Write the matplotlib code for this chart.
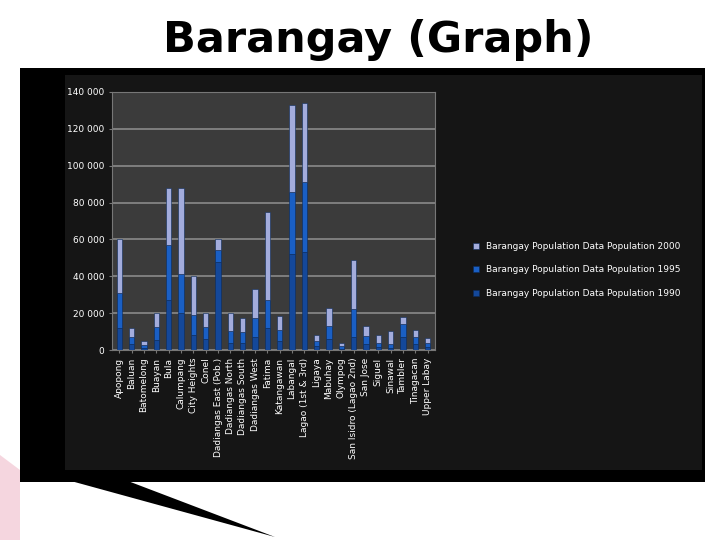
import matplotlib
matplotlib.use("Agg")
import matplotlib.pyplot as plt
from matplotlib.patches import Rectangle, Polygon
import numpy as np

categories = ["Apopong", "Baluan", "Batomelong", "Buayan", "Bula", "Calumpang", "City Heights",
              "Conel", "Dadiangas East (Pob.)", "Dadiangas North", "Dadiangas South", "Dadiangas West",
              "Fatima", "Katangawan", "Labangal", "Lagao (1st & 3rd)", "Ligaya", "Mabuhay", "Olympog",
              "San Isidro (Lagao 2nd)", "San Jose", "Siguel", "Sinawal", "Tambler", "Tinagacan", "Upper Labay"]
pop1990 = [12000, 3000, 1000, 5500, 27000, 20000, 8000, 6000, 48000, 4000, 4000, 7000, 12000, 5000,
           52000, 53000, 2000, 6000, 800, 7000, 3000, 1500, 1200, 7000, 3000, 1500]
pop1995 = [19000, 4000, 1500, 7000, 30000, 21000, 11000, 6500, 6000, 6500, 6000, 10500, 15000, 6000,
           34000, 38000, 3000, 7000, 1200, 15000, 4500, 2500, 2300, 7000, 4000, 2500]
pop2000 = [29000, 5000, 2500, 7500, 31000, 47000, 21000, 7500, 6000, 9500, 7500, 15500, 48000, 7500,
           47000, 43000, 3000, 10000, 2000, 27000, 5500, 4000, 7000, 4000, 4000, 2500]
series = [("Barangay Population Data Population 2000", pop2000, "#a3acdc"),
          ("Barangay Population Data Population 1995", pop1995, "#1a5fc4"),
          ("Barangay Population Data Population 1990", pop1990, "#14489a")]

fig = plt.figure(figsize=(7.2, 5.4), dpi=100)
fig.patch.set_facecolor("white")
fig.patches.append(Polygon([(0, 1-455/540), (20/720, 1-470/540), (20/720, 0), (0, 0)],
                           closed=True, transform=fig.transFigure, facecolor="#e07a95", alpha=0.3))
fig.patches.append(Polygon([(60/720, 1-478/540), (120/720, 1-478/540), (275/720, 1-537/540)],
                           closed=True, transform=fig.transFigure, facecolor="black"))
fig.patches.append(Rectangle((20/720, 1-482/540), 685/720, 414/540, transform=fig.transFigure,
                             facecolor="black", zorder=-3))
fig.patches.append(Rectangle((65/720, 1-470/540), 637/720, 395/540, transform=fig.transFigure,
                             facecolor="#151515", zorder=-2))
fig.text(0.525, 1-40/540, "Barangay (Graph)", ha="center", va="center", fontsize=31,
         fontweight="bold", color="black")

ax = fig.add_axes([112/720, 1-350/540, 323/720, 258/540])
ax.set_facecolor("#3b3b3b")
x = np.arange(len(categories))
bottom = np.zeros(len(categories))
for name, vals, col in reversed(series):
    ax.bar(x, vals, 0.45, bottom=bottom, color=col, edgecolor="#0b2a5a", linewidth=0.4,
           label=name, zorder=3)
    bottom += np.array(vals)
ax.set_ylim(0, 140000)
ax.set_xlim(-0.6, len(categories) - 0.4)
ax.set_yticks(range(0, 140001, 20000))
ax.set_yticklabels(["0" if v == 0 else f"{v//1000} 000" for v in range(0, 140001, 20000)],
                   fontsize=6.5)
ax.grid(axis="y", color="#8a8a8a", linewidth=1.2, zorder=0)
ax.set_xticks(x)
ax.set_xticklabels(categories, rotation=90, fontsize=6.5)
for s in ax.spines.values():
    s.set_color("#777777")
ax.tick_params(colors="#777777", length=2)
for lbl in ax.get_xticklabels() + ax.get_yticklabels():
    lbl.set_color("white")

h, l = ax.get_legend_handles_labels()
fig.legend(h[::-1], l[::-1], loc="center left", bbox_to_anchor=(465/720, 1-270/540),
           frameon=False, fontsize=6.5, labelcolor="white", handlelength=0.6, handleheight=0.6,
           labelspacing=1.6)
fig.savefig("out.png", dpi=100)
